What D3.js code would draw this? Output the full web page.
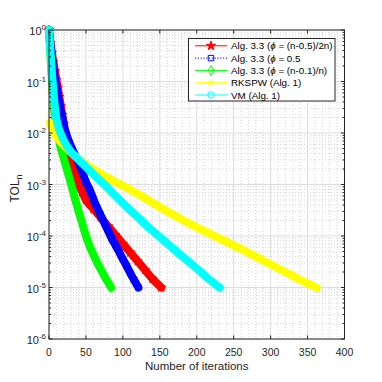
<!DOCTYPE html>
<html>
<head>
<meta charset="utf-8">
<script src="https://cdn.jsdelivr.net/npm/d3@7"></script>
<style>
	body { margin: 0; background: #fff; }
	svg { display: block; font-family: "Liberation Sans", Arial, Helvetica, sans-serif; }
</style>
</head>
<body>
<div id="container"></div>
<script>
/* CONSTANTS AND GLOBALS */
const width = 382,
	height = 382,
	margin = { top: 30, bottom: 43, left: 49, right: 37.5 },
	axisColor = "#262626";

/* DATA (iteration number, exponent of TOL_n) */
const redIter = [0, 2, 4, 6, 8, 10, 12, 14, 16, 18, 20, 22, 25, 28, 31, 35, 40, 45, 50, 60, 70, 80, 90, 100, 110, 120, 130, 140, 152];
const redExp  = [0, -0.25, -0.45, -0.62, -0.8, -0.97, -1.12, -1.3, -1.48, -1.65, -1.82, -2.0, -2.2, -2.42, -2.6, -2.8, -3.0, -3.15, -3.3, -3.47, -3.64, -3.81, -3.98, -4.15, -4.32, -4.49, -4.66, -4.83, -5.0];

const blueIter = [0, 2, 4, 6, 8, 10, 12, 15, 18, 21, 24, 28, 32, 37, 42, 46, 50, 55, 60, 65, 70, 75, 80, 85, 90, 95, 100, 105, 110, 115, 121];
const blueExp  = [0, -0.3, -0.55, -0.75, -0.95, -1.1, -1.25, -1.5, -1.7, -1.9, -2.05, -2.2, -2.33, -2.48, -2.65, -2.8, -2.95, -3.1, -3.28, -3.45, -3.6, -3.75, -3.9, -4.05, -4.18, -4.31, -4.45, -4.58, -4.72, -4.85, -5.0];

const greenIter = [0, 2, 4, 6, 8, 10, 13, 16, 20, 25, 30, 35, 40, 45, 50, 55, 60, 65, 70, 75, 80, 84];
const greenExp  = [0, -0.5, -1.0, -1.4, -1.7, -1.9, -2.1, -2.3, -2.5, -2.75, -3.0, -3.27, -3.52, -3.76, -4.0, -4.2, -4.36, -4.51, -4.65, -4.78, -4.9, -5.0];

const yellowIter = [0, 1, 5, 10, 15, 20, 30, 40, 50, 60, 70, 80, 90, 100, 120, 140, 160, 180, 200, 220, 240, 260, 280, 300, 320, 340, 362];
const yellowExp  = [0, -1.8, -1.95, -2.07, -2.16, -2.24, -2.38, -2.5, -2.61, -2.7, -2.79, -2.87, -2.95, -3.02, -3.18, -3.35, -3.52, -3.68, -3.83, -3.97, -4.11, -4.25, -4.4, -4.55, -4.7, -4.85, -5.0];

const cyanIter = [0, 2, 4, 6, 8, 10, 13, 17, 22, 28, 35, 46, 55, 65, 75, 90, 110, 125, 140, 155, 170, 185, 200, 215, 231];
const cyanExp  = [0, -0.45, -0.85, -1.2, -1.5, -1.72, -1.9, -2.05, -2.2, -2.33, -2.45, -2.6, -2.73, -2.87, -3.0, -3.22, -3.5, -3.7, -3.9, -4.08, -4.27, -4.45, -4.63, -4.82, -5.0];

const xTicks = [0, 50, 100, 150, 200, 250, 300, 350, 400];
const yTickExp = [0, -1, -2, -3, -4, -5, -6];
const legendLabels = [
	["Alg. 3.3 (", "ϕ", " = (n-0.5)/2n)"],
	["Alg. 3.3 (", "ϕ", " = 0.5"],
	["Alg. 3.3 (", "ϕ", " = (n-0.1)/n)"],
	["RKSPW (Alg. 1)"],
	["VM (Alg. 1)"]
];

/* series styling, plotted in this order (later ones on top) */
const series = [
	{ iter: redIter, exp: redExp, color: "#ff0000", symbol: d3.symbolStar, size: 26, dash: null, bandStart: 0 },
	{ iter: blueIter, exp: blueExp, color: "#0000ff", symbol: d3.symbolSquare, size: 30, dash: "1.2,1.6", bandStart: 0 },
	{ iter: greenIter, exp: greenExp, color: "#00ff00", symbol: d3.symbolDiamond, size: 28, dash: null, bandStart: 0 },
	{ iter: yellowIter, exp: yellowExp, color: "#ffff00", symbol: d3.symbolAsterisk || d3.symbolCross, size: 34, dash: null, bandStart: 1 },
	{ iter: cyanIter, exp: cyanExp, color: "#00ffff", symbol: d3.symbolCircle, size: 32, dash: null, bandStart: 0 }
];

/* SCALES */
const xScale = d3.scaleLinear()
	.domain([0, 400])
	.range([margin.left, width - margin.right]);

const yScale = d3.scaleLog()
	.domain([1e-6, 1])
	.range([height - margin.bottom, margin.top]);

const x0 = xScale.range()[0], x1 = xScale.range()[1];
const yTop = yScale.range()[1], yBot = yScale.range()[0];

/* minor positions */
const xMinor = d3.range(0, 401, 10).filter(d => d % 50 !== 0);
const yMinor = [];
yTickExp.slice(1).forEach(e => { for (let k = 2; k <= 9; k++) yMinor.push(k * Math.pow(10, e)); });

/* HTML ELEMENTS */
const svg = d3.select("#container")
	.append("svg")
	.attr("width", width)
	.attr("height", height);

svg.append("rect").attr("width", width).attr("height", height).attr("fill", "#fff");

/* grid */
const grid = svg.append("g");
grid.selectAll(".xminor").data(xMinor).join("line")
	.attr("x1", d => xScale(d)).attr("x2", d => xScale(d))
	.attr("y1", yTop).attr("y2", yBot)
	.attr("stroke", "#c4c4c4").attr("stroke-width", 0.7).attr("stroke-dasharray", "1,2");
grid.selectAll(".yminor").data(yMinor).join("line")
	.attr("x1", x0).attr("x2", x1)
	.attr("y1", d => yScale(d)).attr("y2", d => yScale(d))
	.attr("stroke", "#c4c4c4").attr("stroke-width", 0.7).attr("stroke-dasharray", "1,2");
grid.selectAll(".xmajor").data(xTicks).join("line")
	.attr("x1", d => xScale(d)).attr("x2", d => xScale(d))
	.attr("y1", yTop).attr("y2", yBot)
	.attr("stroke", "#dcdcdc").attr("stroke-width", 1);
grid.selectAll(".ymajor").data(yTickExp).join("line")
	.attr("x1", x0).attr("x2", x1)
	.attr("y1", d => yScale(Math.pow(10, d))).attr("y2", d => yScale(Math.pow(10, d)))
	.attr("stroke", "#dcdcdc").attr("stroke-width", 1);

/* curves */
const line = d3.line()
	.x(d => xScale(d.n))
	.y(d => yScale(d.v))
	.curve(d3.curveMonotoneX);

series.forEach(s => {
	const pts = s.iter.map((n, i) => ({ n: n, v: Math.pow(10, s.exp[i]) }));
	const g = svg.append("g");
	g.append("path") /* thin line through every point */
		.attr("d", line(pts))
		.attr("fill", "none")
		.attr("stroke", s.color)
		.attr("stroke-width", 1);
	g.append("path") /* dense markers drawn as a thick band */
		.attr("d", line(pts.slice(s.bandStart)))
		.attr("fill", "none")
		.attr("stroke", s.color)
		.attr("stroke-width", 8)
		.attr("stroke-linejoin", "round")
		.attr("stroke-linecap", "round");
	g.selectAll("path.mk").data(pts).join("path")
		.attr("class", "mk")
		.attr("transform", d => `translate(${xScale(d.n)},${yScale(d.v)})`)
		.attr("d", d3.symbol().type(s.symbol).size(s.size))
		.attr("fill", "none")
		.attr("stroke", s.color)
		.attr("stroke-width", 1);
});

/* axes box and ticks */
const ax = svg.append("g").attr("stroke", axisColor).attr("fill", "none");
ax.append("rect")
	.attr("x", x0).attr("y", yTop)
	.attr("width", x1 - x0).attr("height", yBot - yTop)
	.attr("stroke-width", 1);
ax.selectAll(".xt").data(xTicks).join("path")
	.attr("d", d => `M${xScale(d)},${yBot}v-3.5M${xScale(d)},${yTop}v3.5`);
ax.selectAll(".yt").data(yTickExp).join("path")
	.attr("d", d => { const y = yScale(Math.pow(10, d)); return `M${x0},${y}h3.5M${x1},${y}h-3.5`; });
ax.selectAll(".ym").data(yMinor).join("path")
	.attr("d", d => { const y = yScale(d); return `M${x0},${y}h2M${x1},${y}h-2`; });

/* tick labels */
svg.selectAll(".xlabel").data(xTicks).join("text")
	.attr("x", d => xScale(d))
	.attr("y", yBot + 17)
	.attr("text-anchor", "middle")
	.attr("font-size", 10.5)
	.attr("fill", axisColor)
	.text(d => d);

const ylab = svg.selectAll(".ylabel").data(yTickExp).join("text")
	.attr("x", x0 - 3)
	.attr("y", d => yScale(Math.pow(10, d)) + 5)
	.attr("text-anchor", "end")
	.attr("font-size", 11)
	.attr("fill", axisColor);
ylab.append("tspan").text("10");
ylab.append("tspan").attr("dy", -5).attr("font-size", 8).text(d => d);

/* axis titles */
svg.append("text")
	.attr("x", (x0 + x1) / 2)
	.attr("y", yBot + 31)
	.attr("text-anchor", "middle")
	.attr("font-size", 11.5)
	.attr("fill", axisColor)
	.text("Number of iterations");

const yt = svg.append("text")
	.attr("transform", `translate(19,${(yTop + yBot) / 2 + 4}) rotate(-90)`)
	.attr("text-anchor", "middle")
	.attr("font-size", 12)
	.attr("fill", axisColor);
yt.append("tspan").text("TOL");
yt.append("tspan").attr("dy", 3).attr("font-size", 9).text("n");

/* legend */
const lg = svg.append("g");
lg.append("rect")
	.attr("x", 188.5).attr("y", 38.5)
	.attr("width", 146.5).attr("height", 62.5)
	.attr("fill", "#fff")
	.attr("stroke", axisColor)
	.attr("stroke-width", 1);

const rows = lg.selectAll(".row").data(series).join("g")
	.attr("transform", (d, i) => `translate(0,${45.8 + i * 12.3})`);
rows.append("line")
	.attr("x1", 195).attr("x2", 227)
	.attr("stroke", d => d.color)
	.attr("stroke-width", 1)
	.attr("stroke-dasharray", d => d.dash);
rows.append("path")
	.attr("transform", "translate(211,0)")
	.attr("d", d => d3.symbol().type(d.symbol).size(d.size)())
	.attr("fill", d => d.symbol === d3.symbolStar ? d.color : "none")
	.attr("stroke", d => d.color)
	.attr("stroke-width", 1);
const lt = rows.append("text")
	.attr("x", 231)
	.attr("y", 3.5)
	.attr("font-size", 9.8)
	.attr("fill", "#000");
lt.each(function(d, i) {
	const parts = legendLabels[i];
	const t = d3.select(this);
	parts.forEach((p, j) => {
		t.append("tspan").attr("font-style", j === 1 ? "italic" : null).text(p);
	});
});
</script>
</body>
</html>
